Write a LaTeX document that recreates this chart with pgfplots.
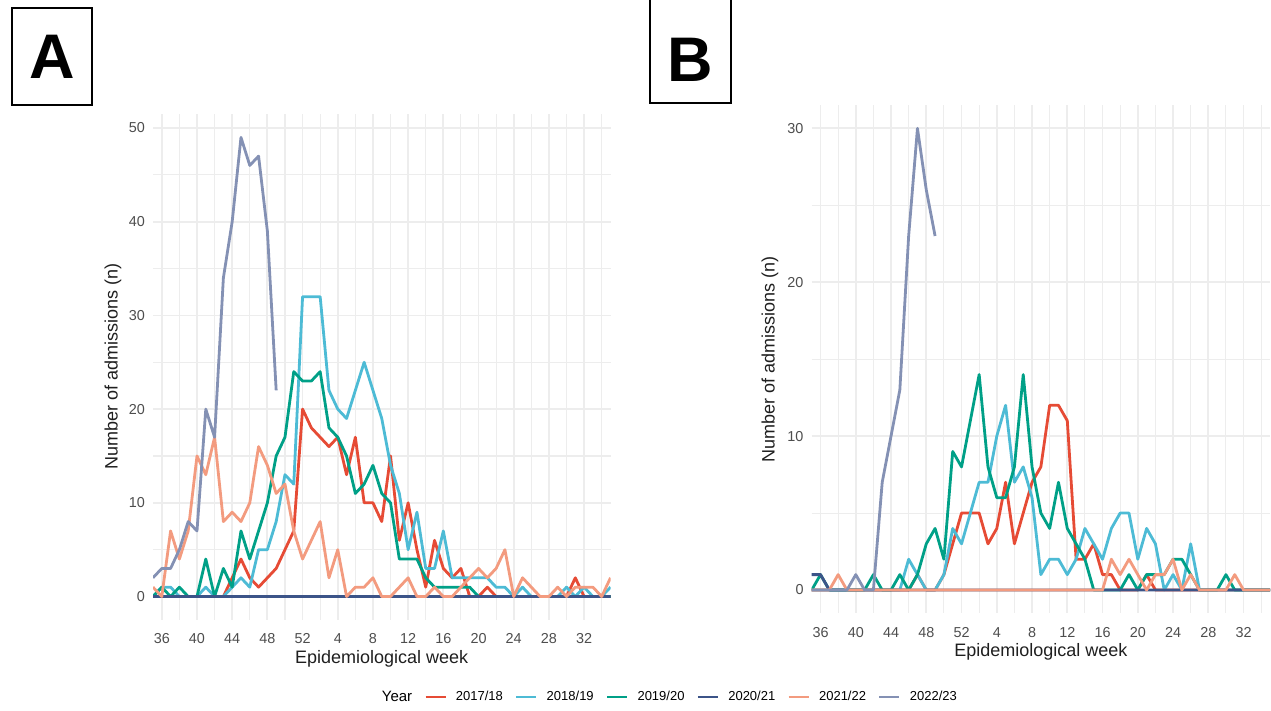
\documentclass[border=0pt]{standalone}
\usepackage{fontspec}
\setmainfont{Liberation Sans}
\usepackage{pgfplots}
\usepackage{pgfplotstable}
\pgfplotsset{compat=1.18}

\definecolor{cA}{HTML}{E64B35}
\definecolor{cB}{HTML}{4DBBD5}
\definecolor{cC}{HTML}{00A087}
\definecolor{cD}{HTML}{3C5488}
\definecolor{cE}{HTML}{F39B7F}
\definecolor{cF}{HTML}{8491B4}
\definecolor{gridc}{HTML}{EDEDED}
\definecolor{tickc}{HTML}{4D4D4D}

% week index: -1 = week 35, 0 = week 36, ..., 51 = week 35 of next year
\pgfplotstableread{
i  r  c  g  n  s  p
-1 0  0  0  0  1  2
0  0  1  1  0  0  3
1  0  1  0  0  7  3
2  0  0  1  0  4  5
3  0  0  0  0  7  8
4  0  0  0  0  15 7
5  0  1  4  0  13 20
6  0  0  0  0  17 17
7  0  0  3  0  8  34
8  2  1  1  0  9  40
9  4  2  7  0  8  49
10 2  1  4  0  10 46
11 1  5  7  0  16 47
12 2  5  10 0  14 39
13 3  8  15 0  11 22
14 5  13 17 0  12 nan
15 7  12 24 0  7  nan
16 20 32 23 0  4  nan
17 18 32 23 0  6  nan
18 17 32 24 0  8  nan
19 16 22 18 0  2  nan
20 17 20 17 0  5  nan
21 13 19 15 0  0  nan
22 17 22 11 0  1  nan
23 10 25 12 0  1  nan
24 10 22 14 0  2  nan
25 8  19 11 0  0  nan
26 15 14 10 0  0  nan
27 6  11 4  0  1  nan
28 10 5  4  0  2  nan
29 5  9  4  0  0  nan
30 1  3  2  0  0  nan
31 6  3  1  0  1  nan
32 3  7  1  0  0  nan
33 2  2  1  0  0  nan
34 3  2  1  0  1  nan
35 0  2  1  0  2  nan
36 0  2  0  0  3  nan
37 1  2  0  0  2  nan
38 0  1  0  0  3  nan
39 0  1  0  0  5  nan
40 0  0  0  0  0  nan
41 0  1  0  0  2  nan
42 0  0  0  0  1  nan
43 0  0  0  0  0  nan
44 0  0  0  0  0  nan
45 0  0  0  0  1  nan
46 0  1  0  0  0  nan
47 2  0  0  0  1  nan
48 0  1  0  0  1  nan
49 0  0  0  0  1  nan
50 0  0  0  0  0  nan
51 0  1  0  0  2  nan
}\dataA

\pgfplotstableread{
i  r  c  g  n  s  p
-1 0  0  0  1  0  0
0  0  0  1  1  0  0
1  0  0  0  0  0  0
2  0  0  0  0  1  0
3  0  0  0  0  0  0
4  0  0  0  0  0  1
5  0  0  0  0  0  0
6  0  0  1  0  0  0
7  0  0  0  0  0  7
8  0  0  0  0  0  10
9  0  0  1  0  0  13
10 0  2  0  0  0  23
11 1  1  1  0  0  30
12 0  0  3  0  0  26
13 0  0  4  0  0  23
14 1  1  2  0  0  nan
15 3  4  9  0  0  nan
16 5  3  8  0  0  nan
17 5  5  11 0  0  nan
18 5  7  14 0  0  nan
19 3  7  8  0  0  nan
20 4  10 6  0  0  nan
21 7  12 6  0  0  nan
22 3  7  8  0  0  nan
23 5  8  14 0  0  nan
24 7  6  8  0  0  nan
25 8  1  5  0  0  nan
26 12 2  4  0  0  nan
27 12 2  7  0  0  nan
28 11 1  4  0  0  nan
29 2  2  3  0  0  nan
30 2  4  2  0  0  nan
31 3  3  0  0  0  nan
32 1  2  0  0  0  nan
33 1  4  0  0  2  nan
34 0  5  0  0  1  nan
35 0  5  1  0  2  nan
36 0  2  0  0  1  nan
37 1  4  1  0  0  nan
38 0  3  1  0  1  nan
39 0  0  1  0  1  nan
40 0  1  2  0  2  nan
41 0  0  2  0  0  nan
42 0  3  1  0  1  nan
43 0  0  0  0  0  nan
44 0  0  0  0  0  nan
45 0  0  0  0  0  nan
46 0  0  1  0  0  nan
47 0  0  0  0  1  nan
48 0  0  0  0  0  nan
49 0  0  0  0  0  nan
50 0  0  0  0  0  nan
51 0  0  0  0  0  nan
}\dataB

\newcommand{\tickfont}{\fontsize{14.4bp}{16bp}\selectfont}
\newcommand{\titlefont}{\fontsize{18bp}{20bp}\selectfont}
\newcommand{\legfont}{\fontsize{13bp}{15bp}\selectfont}

\pgfplotsset{
  panel/.style={
    scale only axis,
    anchor=south west,
    xmin=-1, xmax=51,
    axis line style={draw=none},
    major tick length=0pt, minor tick length=0pt,
    xtick={0,4,...,48},
    xticklabels={36,40,44,48,52,4,8,12,16,20,24,28,32},
    minor xtick={2,6,...,50},
    grid=both,
    major grid style={gridc, line width=1.8bp},
    minor grid style={gridc, line width=1.1bp},
    tick label style={font=\tickfont, text=tickc},
    xticklabel style={anchor=north, inner sep=0pt, yshift=-14bp},
    yticklabel style={anchor=east, inner sep=0pt, xshift=-8bp},
    /pgf/number format/assume math mode=true,
    label style={font=\titlefont, text=black!88},
    xlabel={Epidemiological week},
    ylabel={Number of admissions (n)},
    every axis plot/.append style={line width=2.8bp, mark=none, line join=round},
    unbounded coords=jump,
  }
}

\begin{document}
\begin{tikzpicture}
\path[use as bounding box] (0,0) rectangle (1271bp,711bp);

\begin{axis}[panel,
  at={(153bp,91.5bp)}, width=457.5bp, height=505.1bp,
  ymin=-2.45, ymax=51.45,
  ytick={0,10,...,50}, minor ytick={5,15,...,45},
  xlabel style={at={(axis description cs:0.5,-0.078)}, anchor=center},
  ylabel style={at={(axis description cs:-0.0874,0.5)}, anchor=center},
  legend style={at={(axis description cs:1.121,-0.1535)}, anchor=center,
    draw=none, fill=none, legend columns=-1, font=\legfont,
    /tikz/every odd column/.append style={column sep=7bp},
    /tikz/every even column/.append style={column sep=10bp}},
  legend image code/.code={\draw[#1, line width=2.8bp] (0bp,0bp) -- (20bp,0bp);},
]
\addlegendimage{empty legend}
\addlegendentry{\fontsize{15bp}{17bp}\selectfont Year}
\addplot[cA] table[x=i, y=r] {\dataA}; \addlegendentry{2017/18}
\addplot[cB] table[x=i, y=c] {\dataA}; \addlegendentry{2018/19}
\addplot[cC] table[x=i, y=g] {\dataA}; \addlegendentry{2019/20}
\addplot[cD] table[x=i, y=n] {\dataA}; \addlegendentry{2020/21}
\addplot[cE] table[x=i, y=s] {\dataA}; \addlegendentry{2021/22}
\addplot[cF] table[x=i, y=p] {\dataA}; \addlegendentry{2022/23}
\end{axis}

\begin{axis}[panel,
  at={(811.7bp,97.9bp)}, width=458.3bp, height=507.9bp,
  ymin=-1.5, ymax=31.5,
  ytick={0,10,20,30}, minor ytick={5,15,25},
  xlabel style={at={(axis description cs:0.5,-0.0767)}, anchor=center},
  ylabel style={at={(axis description cs:-0.091,0.5)}, anchor=center},
]
\addplot[cA] table[x=i, y=r] {\dataB};
\addplot[cB] table[x=i, y=c] {\dataB};
\addplot[cC] table[x=i, y=g] {\dataB};
\addplot[cD] table[x=i, y=n] {\dataB};
\addplot[cE] table[x=i, y=s] {\dataB};
\addplot[cF] table[x=i, y=p] {\dataB};
\end{axis}

% panel tags
\draw[line width=2.5bp] (12bp,606bp) rectangle (92bp,703bp);
\node[font=\bfseries\fontsize{63bp}{63bp}\selectfont] at (52bp,654bp) {A};
\draw[line width=2.5bp] (650bp,608bp) rectangle (731bp,720bp);
\node[font=\bfseries\fontsize{63bp}{63bp}\selectfont] at (690.5bp,651bp) {B};
\end{tikzpicture}
\end{document}
